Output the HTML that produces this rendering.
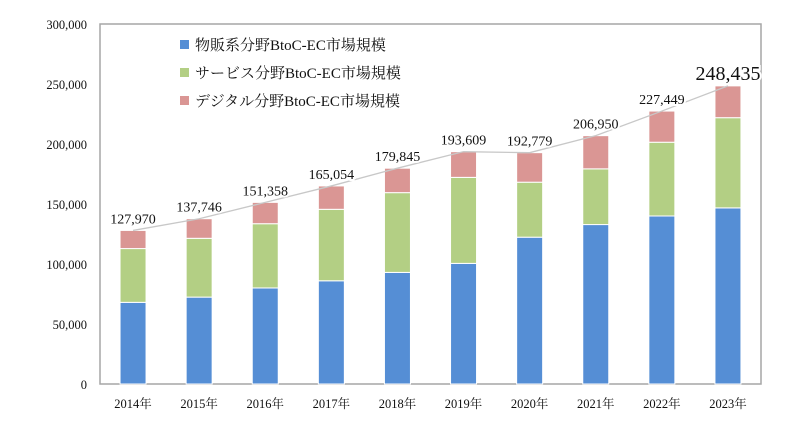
<!DOCTYPE html>
<html><head><meta charset="utf-8"><style>
html,body{margin:0;padding:0;background:#fff;}
svg text{font-family:"Liberation Serif","Noto Serif CJK SC",serif;fill:#111;}
</style></head><body>
<svg id="chart" width="797" height="421" viewBox="0 0 797 421" xmlns="http://www.w3.org/2000/svg">
<rect x="100" y="24" width="661" height="360" fill="#fff" stroke="#a6a6a6" stroke-width="1.5"/>
<g id="yaxis"></g>
<g id="bars"></g>
<g id="xaxis"></g>
<g id="totals"></g>
<g>
  <g><rect x="180" y="40" width="9" height="9" fill="#558ed5"/><text x="195" y="50" font-size="15">物販系分野BtoC-EC市場規模</text></g>
  <g><rect x="180" y="68" width="9" height="9" fill="#b3cf84"/><text x="195" y="78" font-size="15">サービス分野BtoC-EC市場規模</text></g>
  <g><rect x="180" y="96" width="9" height="9" fill="#da9694"/><text x="195" y="106" font-size="15">デジタル分野BtoC-EC市場規模</text></g>
</g>
</svg>
<script>
const categories = ["2014年","2015年","2016年","2017年","2018年","2019年","2020年","2021年","2022年","2023年"];
const goods = [68043,72398,80043,86008,92992,100515,122333,132865,139997,146760];
const services = [44816,49014,53532,59568,66471,71672,45832,46424,61477,75169];
const digital = [15111,16334,17783,19478,20382,21422,24614,27661,25975,26506];
const yTicks = [0,50000,100000,150000,200000,250000,300000];
const NS="http://www.w3.org/2000/svg";
const L=100,R=761,T=24,B=384,yMax=300000;
const y=v=>B-(v/yMax)*(B-T);
const band=(R-L)/categories.length;
const xc=i=>L+band*(i+0.5);
const bw=26;
function mk(tag,attrs,parent){const e=document.createElementNS(NS,tag);for(const k in attrs)e.setAttribute(k,attrs[k]);parent.appendChild(e);return e;}
const ya=document.getElementById('yaxis');
yTicks.forEach(t=>{const e=mk('text',{x:87,y:y(t)+5,'text-anchor':'end','font-size':'12.5'},ya);e.textContent=t.toLocaleString('en-US');

});
const bars=document.getElementById('bars');
const series=[[goods,'#558ed5','goods'],[services,'#b3cf84','services'],[digital,'#da9694','digital']];
const totals=categories.map((c,i)=>goods[i]+services[i]+digital[i]);
categories.forEach((c,i)=>{let base=0;series.forEach(([arr,col,nm])=>{const v=arr[i];
const r=mk('rect',{x:xc(i)-bw/2,y:y(base+v),width:bw,height:y(base)-y(base+v),fill:col,stroke:'#fff','stroke-width':'1'},bars);


base+=v;});});
const xa=document.getElementById('xaxis');
categories.forEach((c,i)=>{const e=mk('text',{x:xc(i),y:408,'text-anchor':'middle','font-size':'12.5'},xa);e.textContent=c;

});
const tg=document.getElementById('totals');
const pts=totals.map((v,i)=>xc(i)+','+y(v)).join(' ');
const pl=mk('polyline',{points:pts,fill:'none',stroke:'#c8c8c8','stroke-width':'1.3'},tg);


totals.forEach((v,i)=>{const last=i===totals.length-1;
const e=mk('text',{x:xc(i),y:y(v)-(last?6:7),'text-anchor':'middle','font-size':last?'20':'14',stroke:'#fff','stroke-width':'4','paint-order':'stroke'},tg);
e.textContent=v.toLocaleString('en-US');

});
</script>
</body></html>
